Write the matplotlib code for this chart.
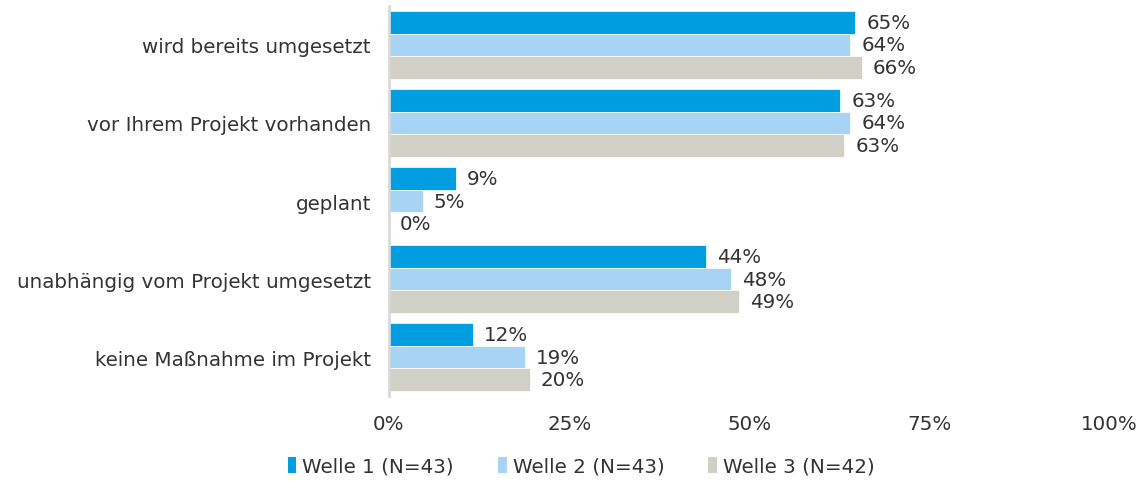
import matplotlib
matplotlib.use("Agg")
import matplotlib.pyplot as plt
import numpy as np
from matplotlib.patches import Patch

categories = ["wird bereits umgesetzt", "vor Ihrem Projekt vorhanden", "geplant",
              "unabhängig vom Projekt umgesetzt", "keine Maßnahme im Projekt"]
series_names = ["Welle 1 (N=43)", "Welle 2 (N=43)", "Welle 3 (N=42)"]
welle1 = [64.7, 62.6, 9.3, 44.0, 11.6]
welle2 = [64.0, 64.0, 4.7, 47.5, 18.9]
welle3 = [65.6, 63.2, 0.0, 48.6, 19.5]
colors = ["#009EE0", "#A7D3F4", "#D0D0C7"]
xticks = [0, 25, 50, 75, 100]

plt.rcParams['font.family'] = ['DejaVu Sans']
FS = 14.3
fig = plt.figure(figsize=(11.44, 4.85), dpi=100)
ax = fig.add_axes([0.340, 0.181, 0.630, 0.805])

y = np.arange(len(categories))
h = 0.29
for i, (vals, c) in enumerate(zip([welle1, welle2, welle3], colors)):
    pos = y + (i - 1) * h
    ax.barh(pos, vals, height=h, color=c, edgecolor='white', linewidth=0.5)
    for p, v in zip(pos, vals):
        ax.annotate(f"{v:.0f}%", (v, p), xytext=(8, 0), textcoords='offset points',
                    va='center', ha='left', fontsize=FS, color='#333333')

ax.set_xlim(0, 100)
ax.set_ylim(len(categories) - 0.5, -0.5)
ax.set_yticks(y)
ax.set_yticklabels(categories, fontsize=FS, color='#333333')
ax.set_xticks(xticks)
ax.set_xticklabels([f"{t}%" for t in xticks], fontsize=FS, color='#333333')
ax.tick_params(axis='both', length=0)
ax.tick_params(axis='x', pad=13)
ax.tick_params(axis='y', pad=13)
for s in ['top', 'right', 'bottom']:
    ax.spines[s].set_visible(False)
ax.spines['left'].set_color('#D9D9D9')
ax.spines['left'].set_linewidth(2)

handles = [Patch(facecolor=c, edgecolor='none') for c in colors]
fig.legend(handles, series_names, loc='lower center', bbox_to_anchor=(0.508, -0.02),
           ncol=3, frameon=False, fontsize=FS, handlelength=0.45, handleheight=0.8,
           handletextpad=0.3, columnspacing=2.2, labelcolor='#333333')

fig.savefig("out.png", dpi=100)
